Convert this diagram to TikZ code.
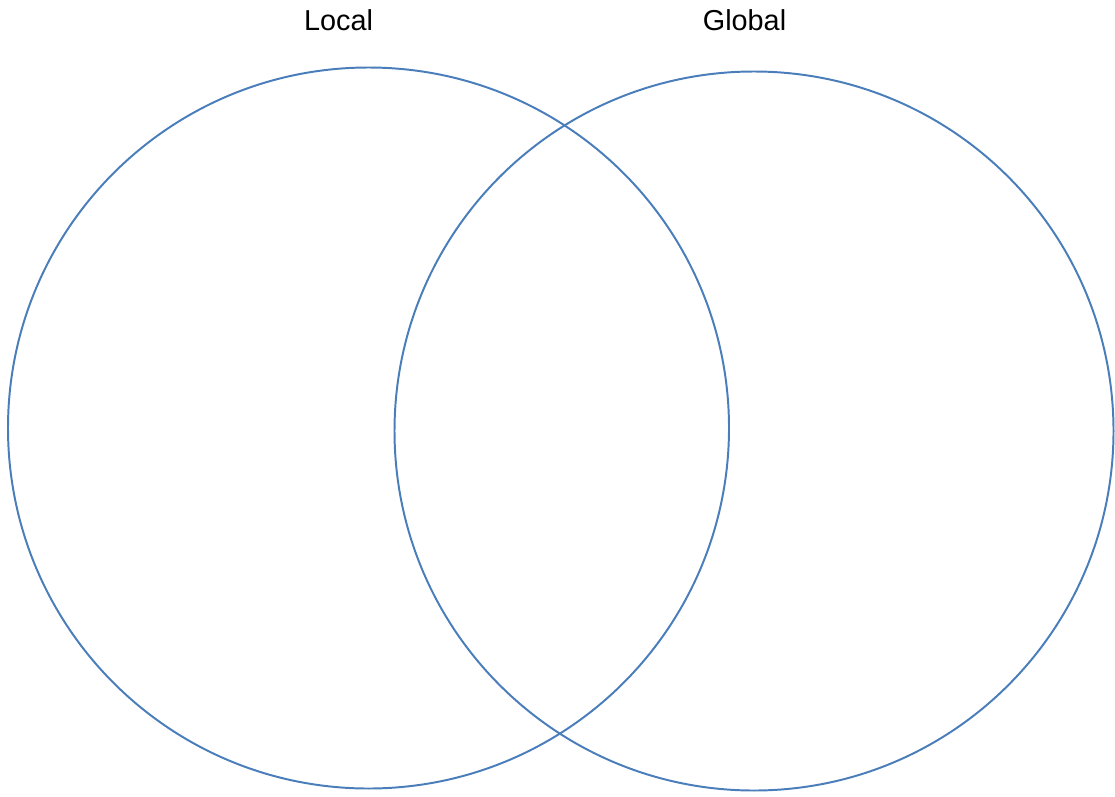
\documentclass[tikz,border=0pt]{standalone}
\usepackage{fontspec}
\setmainfont{Liberation Sans}
\usetikzlibrary{positioning}
\definecolor{setline}{RGB}{74,126,187}

\begin{document}
\begin{tikzpicture}[
  x=0.025cm, y=-0.025cm,
  setring/.style={circle, draw=setline, line width=1.4pt, inner sep=0pt},
  setlabel/.style={font=\fontsize{20.5}{24}\selectfont, anchor=base, inner sep=0pt},
]
\useasboundingbox (0,0) rectangle (1115,796);

% SETS
\node[setring, minimum size=721*0.025cm] (local) at (368.5,428) {};
\node[setring, minimum size=719*0.025cm] (global) at (754,431) {};

% LABELS
\node[setlabel] (locallabel) at (338.5,30) {Local};
\node[setlabel] (globallabel) at (744.5,30) {Global};
\end{tikzpicture}
\end{document}
